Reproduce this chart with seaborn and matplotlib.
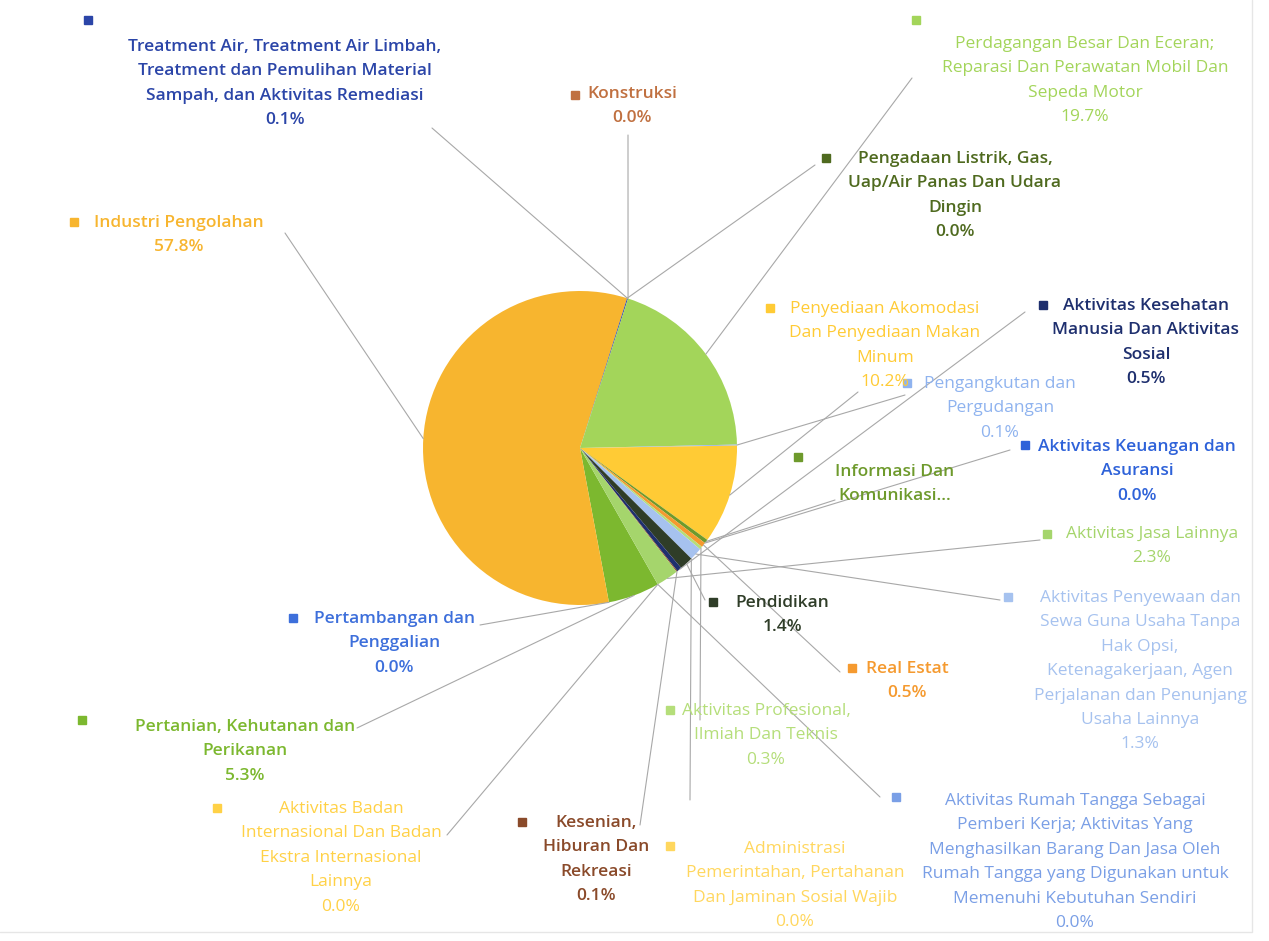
import numpy as np
import seaborn as sns
import matplotlib.pyplot as plt
from matplotlib.patches import Rectangle

sectors = [
    "Pertanian, Kehutanan dan\nPerikanan",
    "Pertambangan dan\nPenggalian",
    "Industri Pengolahan",
    "Pengadaan Listrik, Gas,\nUap/Air Panas Dan Udara\nDingin",
    "Treatment Air, Treatment Air Limbah,\nTreatment dan Pemulihan Material\nSampah, dan Aktivitas Remediasi",
    "Konstruksi",
    "Perdagangan Besar Dan Eceran;\nReparasi Dan Perawatan Mobil Dan\nSepeda Motor",
    "Pengangkutan dan\nPergudangan",
    "Penyediaan Akomodasi\nDan Penyediaan Makan\nMinum",
    "Informasi Dan\nKomunikasi...",
    "Aktivitas Keuangan dan\nAsuransi",
    "Real Estat",
    "Aktivitas Profesional,\nIlmiah Dan Teknis",
    "Aktivitas Penyewaan dan\nSewa Guna Usaha Tanpa\nHak Opsi,\nKetenagakerjaan, Agen\nPerjalanan dan Penunjang\nUsaha Lainnya",
    "Administrasi\nPemerintahan, Pertahanan\nDan Jaminan Sosial Wajib",
    "Pendidikan",
    "Aktivitas Kesehatan\nManusia Dan Aktivitas\nSosial",
    "Kesenian,\nHiburan Dan\nRekreasi",
    "Aktivitas Jasa Lainnya",
    "Aktivitas Rumah Tangga Sebagai\nPemberi Kerja; Aktivitas Yang\nMenghasilkan Barang Dan Jasa Oleh\nRumah Tangga yang Digunakan untuk\nMemenuhi Kebutuhan Sendiri",
    "Aktivitas Badan\nInternasional Dan Badan\nEkstra Internasional\nLainnya",
]
shares = [5.3, 0.0, 57.8, 0.0, 0.1, 0.0, 19.7, 0.1, 10.2, 0.4, 0.0,
          0.5, 0.3, 1.3, 0.0, 1.4, 0.5, 0.1, 2.3, 0.0, 0.0]
show_value = [True] * 9 + [False] + [True] * 11

colors = ["#7cb82f", "#3d6fdb", "#f7b52f", "#4f6a1f", "#2b45a8", "#c07040",
          "#a3d55a", "#8fb3ef", "#ffcb35", "#6e9a2c", "#2e62d9", "#f59a2f",
          "#b5de7a", "#a6c2ef", "#ffd75e", "#2f3d28", "#1e2f6e", "#8a4a2a",
          "#a5d56c", "#7a9fe6", "#ffd146"]
bold = [True, True, True, True, True, True, False, False, False, True, True,
        True, False, False, False, True, True, True, False, False, False]

# label layout in image pixels: square x, square y, text centre x, first line y, leader start x, y
layout = [
    (82, 720, 245, 728, 357, 728),
    (293, 618, 394, 620, 480, 625),
    (74, 222, 179, 224, 285, 233),
    (826, 158, 955, 160, 815, 165),
    (88, 20, 285, 48, 432, 128),
    (575, 95, 632, 95, 628, 135),
    (916, 20, 1085, 45, 912, 78),
    (907, 383, 1000, 385, 905, 395),
    (770, 308, 885, 310, 858, 392),
    (798, 457, 895, 473, 835, 500),
    (1025, 445, 1137, 448, 1010, 450),
    (852, 668, 907, 670, 840, 672),
    (670, 710, 766, 712, 700, 720),
    (1008, 597, 1140, 599, 1000, 600),
    (670, 846, 795, 850, 690, 800),
    (713, 602, 782, 604, 705, 600),
    (1043, 305, 1146, 307, 1025, 312),
    (522, 822, 596, 824, 640, 825),
    (1047, 534, 1152, 535, 1040, 540),
    (896, 797, 1075, 802, 880, 797),
    (217, 808, 341, 810, 447, 835),
]

W, H = 1269, 941
cx, cy, r = 580, 448, 157

sns.set_theme(style="white")
plt.rcParams["font.family"] = ["Open Sans", "DejaVu Sans"]

fig, ax = plt.subplots(figsize=(W / 100, H / 100), dpi=100)
ax.set_position([0, 0, 1, 1])

wedges, _ = ax.pie(shares, colors=colors, startangle=-60.3, counterclock=False,
                   center=(cx, H - cy), radius=r, wedgeprops=dict(linewidth=0))
ax.set_xlim(0, W)
ax.set_ylim(0, H)
ax.set_aspect("equal")
ax.axis("off")

for i, w in enumerate(wedges):
    sx, sy, tx, ty, lx, ly = layout[i]
    mid = np.deg2rad((w.theta1 + w.theta2) / 2)
    ex, ey = cx + r * np.cos(mid), cy - r * np.sin(mid)
    ax.plot([lx, ex], [H - ly, H - ey], color="#a8a8a8", lw=0.8, zorder=1)
    ax.add_patch(Rectangle((sx - 4, H - sy - 4), 8, 8, color=colors[i], zorder=3))
    txt = sectors[i]
    if show_value[i]:
        txt += "\n%.1f%%" % shares[i]
    ax.text(tx, H - ty + 9, txt, ha="center", va="top", multialignment="center",
            fontsize=12.5, linespacing=1.7, color=colors[i],
            fontweight="semibold" if bold[i] else "normal", zorder=4)

ax.plot([1252, 1252, 0], [H - 0, H - 932, H - 932], color="#e6e6e6", lw=1)

fig.savefig("out.png", dpi=100)
